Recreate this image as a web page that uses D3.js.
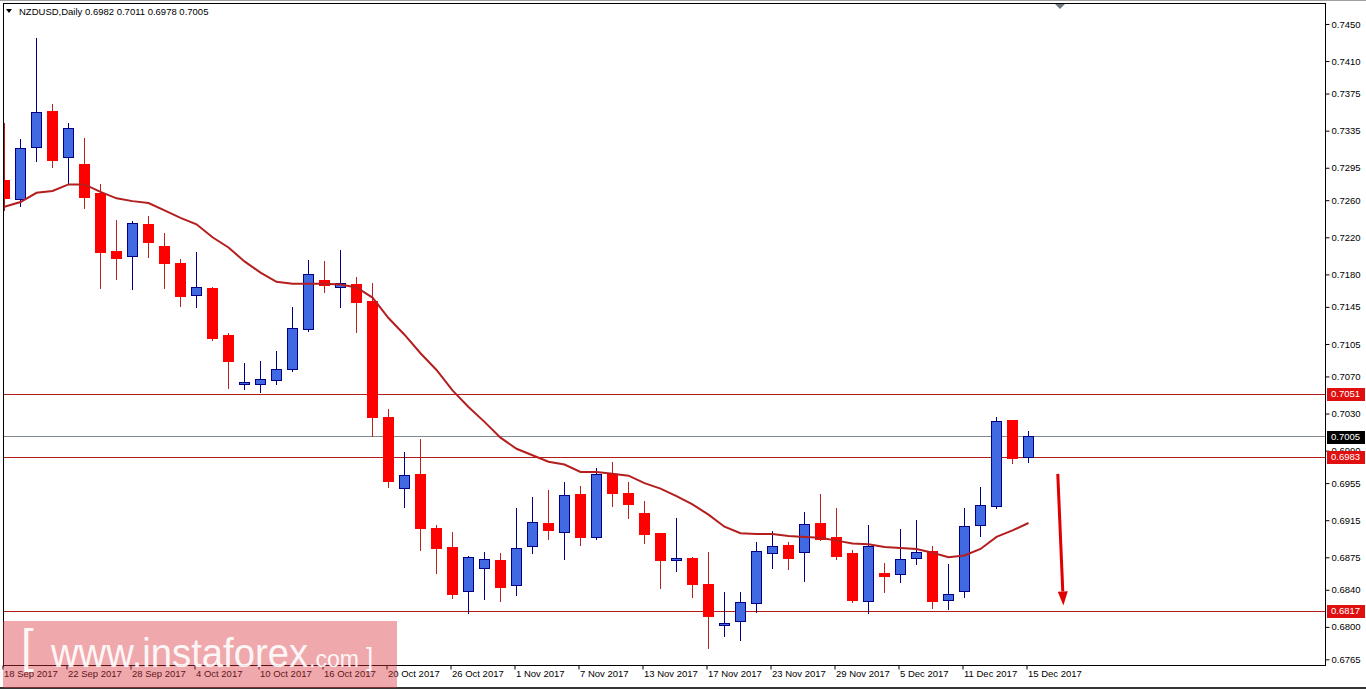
<!DOCTYPE html>
<html><head><meta charset="utf-8">
<script src="https://cdn.jsdelivr.net/npm/d3@7"></script>
<style>
html,body{margin:0;padding:0;background:#fff;overflow:hidden;}
svg{display:block;}
text{font-family:"Liberation Sans",Arial,sans-serif;}
</style></head><body>
<svg id="chart" width="1366" height="690"></svg>
<script>
// ---------- DATA ----------
const symbolTitle = "NZDUSD,Daily";
const dates = [
"18 Sep 2017","19 Sep 2017","20 Sep 2017","21 Sep 2017","22 Sep 2017","25 Sep 2017","26 Sep 2017","27 Sep 2017","28 Sep 2017","29 Sep 2017",
"2 Oct 2017","3 Oct 2017","4 Oct 2017","5 Oct 2017","6 Oct 2017","9 Oct 2017","10 Oct 2017","11 Oct 2017","12 Oct 2017","13 Oct 2017",
"16 Oct 2017","17 Oct 2017","18 Oct 2017","19 Oct 2017","20 Oct 2017","23 Oct 2017","24 Oct 2017","25 Oct 2017","26 Oct 2017","27 Oct 2017",
"30 Oct 2017","31 Oct 2017","1 Nov 2017","2 Nov 2017","3 Nov 2017","6 Nov 2017","7 Nov 2017","8 Nov 2017","9 Nov 2017","10 Nov 2017",
"13 Nov 2017","14 Nov 2017","15 Nov 2017","16 Nov 2017","17 Nov 2017","20 Nov 2017","21 Nov 2017","22 Nov 2017","23 Nov 2017","24 Nov 2017",
"27 Nov 2017","28 Nov 2017","29 Nov 2017","30 Nov 2017","1 Dec 2017","4 Dec 2017","5 Dec 2017","6 Dec 2017","7 Dec 2017","8 Dec 2017",
"11 Dec 2017","12 Dec 2017","13 Dec 2017","14 Dec 2017","15 Dec 2017"];
const openValues = [0.7281,0.7261,0.7317,0.7356,0.7306,0.7298,0.7267,0.7205,0.7199,0.7234,
0.7210,0.7192,0.7157,0.7165,0.7114,0.7061,0.7062,0.7066,0.7078,0.7121,
0.7173,0.7166,0.7169,0.7151,0.7026,0.6949,0.6964,0.6906,0.6886,0.6838,
0.6863,0.6872,0.6845,0.6886,0.6911,0.6902,0.6943,0.6896,0.6964,0.6944,
0.6922,0.6901,0.6872,0.6874,0.6846,0.6802,0.6805,0.6825,0.6879,0.6888,
0.6880,0.6911,0.6896,0.6879,0.6828,0.6858,0.6857,0.6873,0.6881,0.6829,
0.6838,0.6909,0.6929,0.7022,0.6982];
const highValues = [0.7343,0.7326,0.7435,0.7364,0.7343,0.7327,0.7277,0.7239,0.7238,0.7243,
0.7225,0.7197,0.7204,0.7166,0.7117,0.7084,0.7087,0.7097,0.7145,0.7196,
0.7194,0.7206,0.7177,0.7171,0.7035,0.6989,0.7003,0.6910,0.6902,0.6876,
0.6881,0.6880,0.6928,0.6940,0.6948,0.6956,0.6952,0.6971,0.6978,0.6956,
0.6936,0.6901,0.6917,0.6875,0.6881,0.6838,0.6838,0.6891,0.6903,0.6891,
0.6924,0.6943,0.6928,0.6883,0.6910,0.6869,0.6906,0.6915,0.6887,0.6868,
0.6928,0.6951,0.7026,0.7022,0.7011];
const lowValues = [0.7249,0.7254,0.7302,0.7296,0.7279,0.7252,0.7165,0.7175,0.7164,0.7199,
0.7165,0.7146,0.7145,0.7109,0.7058,0.7056,0.7053,0.7062,0.7076,0.7119,
0.7161,0.7145,0.7118,0.7006,0.6951,0.6929,0.6883,0.6858,0.6831,0.6815,
0.6830,0.6828,0.6834,0.6880,0.6895,0.6873,0.6888,0.6895,0.6930,0.6917,
0.6890,0.6842,0.6860,0.6832,0.6777,0.6790,0.6786,0.6816,0.6863,0.6862,
0.6849,0.6894,0.6873,0.6827,0.6815,0.6838,0.6848,0.6868,0.6820,0.6819,
0.6832,0.6898,0.6928,0.6977,0.6978];
const closeValues = [0.7262,0.7316,0.7355,0.7303,0.7337,0.7262,0.7203,0.7197,0.7235,0.7215,
0.7192,0.7156,0.7166,0.7111,0.7086,0.7063,0.7067,0.7078,0.7122,0.7180,
0.7168,0.7170,0.7150,0.7026,0.6957,0.6963,0.6906,0.6884,0.6835,0.6875,
0.6873,0.6843,0.6885,0.6912,0.6903,0.6942,0.6897,0.6964,0.6944,0.6932,
0.6899,0.6872,0.6874,0.6846,0.6812,0.6804,0.6826,0.6881,0.6887,0.6874,
0.6910,0.6894,0.6876,0.6828,0.6887,0.6855,0.6873,0.6880,0.6827,0.6835,
0.6908,0.6931,0.7021,0.6981,0.7005];
const maValues = [0.7253,0.7258,0.7268,0.7270,0.7277,0.7277,0.7269,0.7262,0.7259,0.7257,
0.7249,0.7241,0.7234,0.7220,0.7209,0.7194,0.7182,0.7172,0.7170,0.7170,
0.7170,0.7169,0.7166,0.7155,0.7133,0.7115,0.7095,0.7077,0.7055,0.7037,
0.7021,0.7004,0.6992,0.6985,0.6978,0.6975,0.6967,0.6967,0.6965,0.6963,
0.6955,0.6949,0.6941,0.6932,0.6921,0.6908,0.6901,0.6900,0.6900,0.6898,
0.6897,0.6896,0.6893,0.6890,0.6889,0.6886,0.6885,0.6884,0.6880,0.6875,
0.6877,0.6884,0.6897,0.6904,0.6912];
const levelValues = [0.7051, 0.6983, 0.6817];
const currentPrice = 0.7005;
const yTickValues = [0.7450,0.7410,0.7375,0.7335,0.7295,0.7260,0.7220,0.7180,0.7145,0.7105,
0.7070,0.7030,0.6990,0.6955,0.6915,0.6875,0.6840,0.6800,0.6765];
const xTickIndex = [0,4,8,12,16,20,24,28,32,36,40,44,48,52,56,60,64];
const arrowFrom = {i: 65.83, p: 0.6965};
const arrowTo = {i: 66.18, p: 0.6823};
const shiftMarkerIndex = 65.97;

// ---------- LAYOUT ----------
const svg = d3.select("#chart");
const P = {left:3, right:1325, top:3, bottom:665};
const x = d3.scaleLinear().domain([0, 64]).range([4.5, 1028.5]);
const y = d3.scaleLinear().domain([0.67589, 0.74726]).range([P.bottom, P.top]);
const snap = v => Math.round(v - 0.5) + 0.5;

svg.append("rect").attr("width",1366).attr("height",690).attr("fill","#fff");
svg.append("defs").append("clipPath").attr("id","plotclip")
  .append("rect").attr("x",P.left+1).attr("y",P.top+1).attr("width",P.right-P.left-1).attr("height",P.bottom-P.top-1);

const g = svg.append("g").attr("clip-path","url(#plotclip)");

// horizontal levels
g.selectAll("line.level").data(levelValues).enter().append("line")
  .attr("x1",P.left).attr("x2",P.right)
  .attr("y1",d=>snap(y(d))).attr("y2",d=>snap(y(d)))
  .attr("stroke","#b31b1b").attr("stroke-width",1);
g.append("line").attr("x1",P.left).attr("x2",P.right)
  .attr("y1",snap(y(currentPrice))).attr("y2",snap(y(currentPrice)))
  .attr("stroke","#808890").attr("stroke-width",1);

// candles
const candles = dates.map((d,i)=>({i, o:openValues[i], h:highValues[i], l:lowValues[i], c:closeValues[i]}));
const cg = g.selectAll("g.candle").data(candles).enter().append("g");
cg.append("line")
  .attr("x1",d=>snap(x(d.i))).attr("x2",d=>snap(x(d.i)))
  .attr("y1",d=>Math.round(y(d.h))).attr("y2",d=>Math.round(y(d.l))+1)
  .attr("stroke",d=>d.c>=d.o?"#000080":"#b52020").attr("stroke-width",1);
cg.append("rect")
  .attr("x",d=>snap(x(d.i))-5).attr("width",10)
  .attr("y",d=>snap(y(Math.max(d.o,d.c))))
  .attr("height",d=>Math.max(1, Math.round(Math.abs(y(d.o)-y(d.c)))))
  .attr("fill",d=>d.c>=d.o?"#4169e1":"#ff0000")
  .attr("stroke",d=>d.c>=d.o?"#000080":"#ff0000").attr("stroke-width",1);

// moving average
g.append("path").datum(maValues)
  .attr("d", d3.line().x((d,i)=>x(i)).y(d=>y(d)))
  .attr("fill","none").attr("stroke","#b41e1e").attr("stroke-width",2);

// arrow
const ax1 = x(arrowFrom.i), ay1 = y(arrowFrom.p), ax2 = x(arrowTo.i), ay2 = y(arrowTo.p);
const ang = Math.atan2(ay2-ay1, ax2-ax1);
const headL = 14, headW = 5;
const bx = ax2 - headL*Math.cos(ang), by = ay2 - headL*Math.sin(ang);
g.append("line").attr("x1",ax1).attr("y1",ay1).attr("x2",bx).attr("y2",by)
  .attr("stroke","#e00000").attr("stroke-width",3);
g.append("path").attr("d", d3.line()([
  [ax2, ay2],
  [bx + headW*Math.sin(ang), by - headW*Math.cos(ang)],
  [bx - headW*Math.sin(ang), by + headW*Math.cos(ang)]
]) + "Z").attr("fill","#e00000");

// ---------- AXES ----------
const yAxis = d3.axisRight(y).tickValues(yTickValues).tickFormat(d3.format(".4f")).tickSize(4).tickPadding(2);
const ya = svg.append("g").attr("transform",`translate(${P.right+0.5},0)`).call(yAxis);
ya.select(".domain").remove();
ya.selectAll(".tick line").attr("stroke","#000");
ya.selectAll(".tick text").attr("font-size","9.5px").attr("fill","#000")
  .attr("font-family","'Liberation Sans',Arial,sans-serif");

const xAxis = d3.axisBottom(x).tickValues(xTickIndex).tickFormat(i=>dates[i]).tickSize(4).tickPadding(2);
const xa = svg.append("g").attr("transform",`translate(-2,${P.bottom+0.5})`).call(xAxis);
xa.select(".domain").remove();
xa.selectAll(".tick line").attr("stroke","#000");
xa.selectAll(".tick text").attr("font-size","9.5px").attr("fill","#000").attr("text-anchor","start")
  .attr("dx","1").attr("dy","0.55em")
  .attr("font-family","'Liberation Sans',Arial,sans-serif");

// frame lines
svg.append("line").attr("x1",0).attr("x2",1366).attr("y1",0.5).attr("y2",0.5).attr("stroke","#a0a0a0");
svg.append("line").attr("x1",P.left).attr("x2",P.right).attr("y1",P.top+0.5).attr("y2",P.top+0.5).attr("stroke","#000");
svg.append("line").attr("x1",P.left+0.5).attr("x2",P.left+0.5).attr("y1",P.top).attr("y2",P.bottom+2).attr("stroke","#000");
svg.append("line").attr("x1",P.right+0.5).attr("x2",P.right+0.5).attr("y1",P.top).attr("y2",P.bottom+1).attr("stroke","#000");
svg.append("line").attr("x1",P.left).attr("x2",P.right+1).attr("y1",P.bottom+0.5).attr("y2",P.bottom+0.5).attr("stroke","#000");
svg.append("line").attr("x1",0).attr("x2",1366).attr("y1",688).attr("y2",688).attr("stroke","#333").attr("stroke-width",2);

// price labels on axis
const tags = levelValues.map(v=>({v, bg:"#e01010"})).concat([{v:currentPrice, bg:"#000"}]);
const tg = svg.selectAll("g.tag").data(tags).enter().append("g");
tg.append("rect").attr("x",P.right+2).attr("width",38).attr("y",d=>Math.round(y(d.v))-6).attr("height",13).attr("fill",d=>d.bg);
tg.append("text").attr("x",P.right+6).attr("y",d=>y(d.v)).attr("dy","0.35em")
  .attr("font-size","9.5px").attr("fill","#fff").text(d=>d3.format(".4f")(d.v));

// shift marker
const sx = x(shiftMarkerIndex);
svg.append("path").attr("d",`M${sx-5},${P.top+1}L${sx+5},${P.top+1}L${sx},${P.top+6}Z`).attr("fill","#70787f");

// header
svg.append("path").attr("d","M6,9L12,9L9,13Z").attr("fill","#000");
svg.append("text").attr("x",19).attr("y",15).attr("font-size","9.5px").attr("fill","#000")
  .text(symbolTitle + "  " + [openValues[64],highValues[64],lowValues[64],closeValues[64]].map(d3.format(".4f")).join(" "));

// watermark
const wm = svg.append("g");
wm.append("rect").attr("x",3).attr("y",621).attr("width",394).attr("height",67).attr("fill","#d8323c").attr("opacity",0.42);
const wt = wm.append("g").attr("fill","#fff").attr("fill-opacity",0.92).attr("font-family","'Open Sans','Liberation Sans',Arial,sans-serif");
wt.append("text").attr("x",21).attr("y",662).attr("font-size","46px").attr("font-weight",300).text("[");
wt.append("text").attr("x",51).attr("y",667).attr("font-size","40px").attr("textLength",257).attr("lengthAdjust","spacingAndGlyphs").text("www.instaforex");
wt.append("text").attr("x",309).attr("y",667).attr("font-size","24px").attr("textLength",50).attr("lengthAdjust","spacingAndGlyphs").text(".com");
wt.append("text").attr("x",366).attr("y",666).attr("font-size","26px").attr("font-weight",300).text("]");
</script>
</body></html>
